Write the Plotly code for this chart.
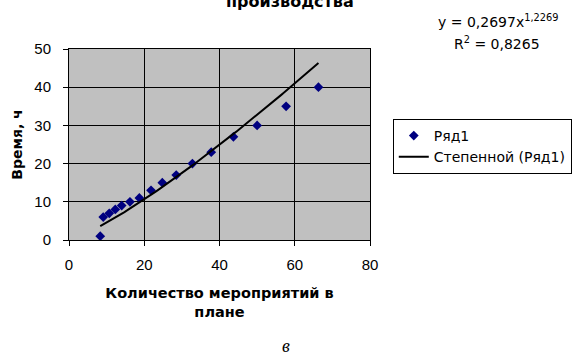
import numpy as np
import plotly.graph_objects as go

# Количество мероприятий в плане и время
x_vals = [8.3, 9.1, 10.7, 12.3, 14.0, 16.2, 18.7, 21.8, 24.8, 28.5, 32.8, 37.8, 43.7, 50.0, 57.7, 66.3]
y_vals = [1, 6, 7, 8, 9, 10, 11, 13, 15, 17, 20, 23, 27, 30, 35, 40]

# Степенная линия тренда y = a * x^b
coef_a = 0.2697
coef_b = 1.2269
r_squared = 0.8265

x_ticks = [0, 20, 40, 60, 80]
y_ticks = [0, 10, 20, 30, 40, 50]

trend_x = np.linspace(min(x_vals), max(x_vals), 100)
trend_y = coef_a * trend_x ** coef_b

TICK_FONT = "Liberation Sans, Arial, sans-serif"
TEXT_FONT = "DejaVu Sans, sans-serif"

fig = go.Figure()
fig.add_trace(go.Scatter(
    x=x_vals, y=y_vals, mode="markers", name="Ряд1",
    marker=dict(symbol="diamond", size=7.5, color="#000080"),
))
fig.add_trace(go.Scatter(
    x=trend_x, y=trend_y, mode="lines", name="Степенной (Ряд1)",
    line=dict(color="black", width=2),
))

axis_common = dict(
    showline=True, linecolor="black", linewidth=1, mirror=True,
    showgrid=True, gridcolor="black", gridwidth=1,
    ticks="outside", ticklen=5, tickcolor="black",
    tickfont=dict(family=TICK_FONT, size=15, color="black"),
    zeroline=False,
)

fig.update_layout(
    width=584, height=358,
    margin=dict(l=69, r=211, t=49, b=118),
    paper_bgcolor="white", plot_bgcolor="#c0c0c0",
    font=dict(family=TEXT_FONT, size=14, color="black"),
    showlegend=True,
    legend=dict(
        x=1.0757, y=0.6335, xanchor="left", yanchor="top",
        bgcolor="white", bordercolor="black", borderwidth=1,
        font=dict(family=TEXT_FONT, size=14, color="black"),
        itemwidth=30, tracegroupgap=0,
    ),
    xaxis=dict(
        range=[0, 80], tickvals=x_ticks, ticklabelstandoff=6,
        title=dict(text="<b>Количество мероприятий в<br>плане</b>",
                   font=dict(family=TEXT_FONT, size=14.5), standoff=15),
        **axis_common,
    ),
    yaxis=dict(
        range=[0, 50], tickvals=y_ticks, ticklabelstandoff=9,
        title=dict(text="<b>Время, ч</b>", font=dict(family=TEXT_FONT, size=14), standoff=8),
        **axis_common,
    ),
)

# заголовок диаграммы (последняя строка у верхнего края)
fig.add_annotation(
    text="<b>производства</b>", xref="paper", yref="paper",
    x=0.7336, y=1.0, yshift=48, xanchor="center", yanchor="middle",
    showarrow=False, font=dict(family=TEXT_FONT, size=16),
)
# уравнение линии тренда и коэффициент детерминации
fig.add_annotation(
    text="y = 0,2697x<sup>1,2269</sup>", xref="paper", yref="paper",
    x=1.424, y=1.0, yshift=17, xanchor="center", yanchor="bottom",
    showarrow=False, font=dict(family=TEXT_FONT, size=14),
)
fig.add_annotation(
    text="R<sup>2</sup> = 0,8265", xref="paper", yref="paper",
    x=1.421, y=1.0, yshift=-5, xanchor="center", yanchor="bottom",
    showarrow=False, font=dict(family=TEXT_FONT, size=14),
)
# подпись рисунка
fig.add_annotation(
    text="<i>в</i>", xref="paper", yref="paper",
    x=0.72, y=0.0, yshift=-118, xanchor="center", yanchor="bottom",
    showarrow=False, font=dict(family="Liberation Serif, serif", size=18),
)

fig.write_html("out.html")
